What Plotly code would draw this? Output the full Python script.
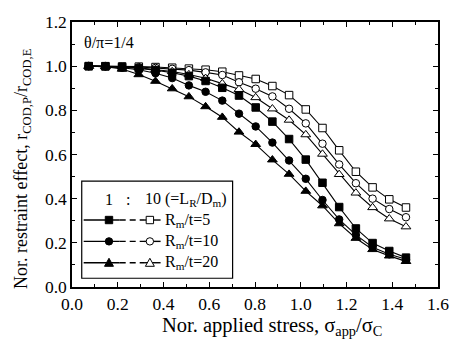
import plotly.graph_objects as go

x_vals = [0.073, 0.146, 0.219, 0.292, 0.365, 0.438, 0.511, 0.584, 0.657, 0.730,
          0.803, 0.876, 0.949, 1.022, 1.095, 1.168, 1.241, 1.314, 1.387, 1.460]

sq_filled = [1.0, 0.999, 0.995, 0.990, 0.982, 0.970, 0.955, 0.933, 0.902, 0.867,
             0.813, 0.749, 0.670, 0.577, 0.472, 0.362, 0.265, 0.199, 0.163, 0.133]
cir_filled = [1.0, 0.999, 0.993, 0.984, 0.968, 0.946, 0.913, 0.884, 0.844, 0.785,
              0.727, 0.654, 0.573, 0.490, 0.394, 0.306, 0.236, 0.180, 0.148, 0.126]
tri_filled = [1.0, 0.998, 0.987, 0.962, 0.932, 0.898, 0.862, 0.817, 0.769, 0.702,
              0.646, 0.576, 0.511, 0.434, 0.368, 0.287, 0.221, 0.170, 0.141, 0.116]
sq_open = [1.0, 1.0, 0.999, 0.998, 0.996, 0.993, 0.989, 0.984, 0.975, 0.958,
           0.942, 0.910, 0.869, 0.804, 0.720, 0.619, 0.522, 0.451, 0.397, 0.360]
cir_open = [1.0, 1.0, 0.998, 0.996, 0.992, 0.988, 0.982, 0.972, 0.960, 0.927,
            0.898, 0.863, 0.807, 0.741, 0.649, 0.555, 0.470, 0.400, 0.353, 0.316]
tri_open = [1.0, 1.0, 0.997, 0.993, 0.985, 0.976, 0.962, 0.945, 0.921, 0.895,
            0.858, 0.807, 0.756, 0.690, 0.602, 0.510, 0.426, 0.360, 0.309, 0.273]

legend_labels = ["R<sub>m</sub>/t=5", "R<sub>m</sub>/t=10", "R<sub>m</sub>/t=20"]
header_text = "10 (=L<sub>R</sub>/D<sub>m</sub>)"
angle_text = "θ/π=1/4"
x_title = "Nor. applied stress, σ<sub>app</sub>/σ<sub>C</sub>"
y_title = "Nor. restraint effect, r<sub>COD,P</sub>/r<sub>COD,E</sub>"

FONT = "Liberation Serif"
W, H = 461, 347
L, R, T, B = 72, 13, 14, 60
PW, PH = W - L - R, H - T - B


def px(x):
    return (x - L) / PW


def py(y):
    return (T + PH - y) / PH


fig = go.Figure()

series = [
    (sq_open, "square", True), (cir_open, "circle", True), (tri_open, "triangle-up", True),
    (sq_filled, "square", False), (cir_filled, "circle", False), (tri_filled, "triangle-up", False),
]
for vals, sym, is_open in series:
    fig.add_trace(go.Scatter(
        x=x_vals, y=vals, mode="lines+markers",
        line=dict(color="black", width=1.1),
        marker=dict(symbol=sym, size=7.5 if sym != "triangle-up" else 8.5,
                    color="white" if is_open else "black",
                    line=dict(color="black", width=1)),
        showlegend=False, hoverinfo="skip"))

axis_common = dict(
    showline=True, linecolor="black", linewidth=1.5, mirror="allticks",
    ticks="inside", ticklen=5, tickwidth=1, tickcolor="black",
    showgrid=False, zeroline=False, tickformat=".1f",
    tickfont=dict(family=FONT, size=17.5, color="black"),
    minor=dict(ticks="inside", ticklen=3, tickwidth=1, tickcolor="black", dtick=0.1, showgrid=False),
)
fig.update_xaxes(range=[0, 1.6], dtick=0.2, tick0=0, **axis_common)
fig.update_yaxes(range=[0, 1.2], dtick=0.2, tick0=0, **axis_common)

shapes = []
annotations = []

# axis titles
annotations.append(dict(xref="paper", yref="paper", x=px(162), y=py(328), xanchor="left",
                        yanchor="middle", text=x_title, showarrow=False,
                        font=dict(family=FONT, size=20.5, color="black")))
annotations.append(dict(xref="paper", yref="paper", x=px(21), y=py(165), xanchor="center",
                        yanchor="middle", text=y_title, showarrow=False, textangle=-90,
                        font=dict(family=FONT, size=18, color="black")))

# legend box
shapes.append(dict(type="rect", xref="paper", yref="paper",
                   x0=px(82), x1=px(237), y0=py(278), y1=py(178),
                   line=dict(color="black", width=1.2), fillcolor="white", layer="above"))

annotations.append(dict(xref="paper", yref="paper", x=px(82), y=py(35), xanchor="left",
                        yanchor="middle", text=angle_text, showarrow=False,
                        font=dict(family=FONT, size=16, color="black")))

hy = 197
annotations.append(dict(xref="paper", yref="paper", x=px(110), y=py(hy), xanchor="center",
                        yanchor="middle", text="1", showarrow=False,
                        font=dict(family=FONT, size=16, color="black")))
annotations.append(dict(xref="paper", yref="paper", x=px(130), y=py(hy), xanchor="center",
                        yanchor="middle", text=":", showarrow=False,
                        font=dict(family=FONT, size=16, color="black")))
annotations.append(dict(xref="paper", yref="paper", x=px(145), y=py(hy), xanchor="left",
                        yanchor="middle", text=header_text, showarrow=False,
                        font=dict(family=FONT, size=16, color="black")))

row_y = [218, 240, 262]
kinds = ["square", "circle", "triangle"]


def marker_shape(kind, cx, cy, filled):
    s = 3.8
    common = dict(xref="paper", yref="paper", line=dict(color="black", width=1),
                  fillcolor="black" if filled else "white", layer="above")
    if kind == "square":
        return dict(type="rect", x0=px(cx - s), x1=px(cx + s), y0=py(cy + s), y1=py(cy - s), **common)
    if kind == "circle":
        return dict(type="circle", x0=px(cx - s), x1=px(cx + s), y0=py(cy + s), y1=py(cy - s), **common)
    t = 4.6
    path = (f"M {px(cx - t)} {py(cy + t * 0.8)} L {px(cx + t)} {py(cy + t * 0.8)} "
            f"L {px(cx)} {py(cy - t)} Z")
    return dict(type="path", path=path, **common)


for yc, kind, lab in zip(row_y, kinds, legend_labels):
    lw = 1.4
    shapes.append(dict(type="line", xref="paper", yref="paper", x0=px(84), x1=px(121),
                       y0=py(yc), y1=py(yc), line=dict(color="black", width=lw), layer="above"))
    shapes.append(dict(type="line", xref="paper", yref="paper", x0=px(121), x1=px(146),
                       y0=py(yc), y1=py(yc), line=dict(color="black", width=lw, dash="6px,4px"), layer="above"))
    shapes.append(dict(type="line", xref="paper", yref="paper", x0=px(146), x1=px(163),
                       y0=py(yc), y1=py(yc), line=dict(color="black", width=lw), layer="above"))
    shapes.append(marker_shape(kind, 110, yc, True))
    shapes.append(marker_shape(kind, 152, yc, False))
    annotations.append(dict(xref="paper", yref="paper", x=px(165), y=py(yc), xanchor="left",
                            yanchor="middle", text=lab, showarrow=False,
                            font=dict(family=FONT, size=16, color="black")))

fig.update_layout(
    width=W, height=H, margin=dict(l=L, r=R, t=T, b=B),
    paper_bgcolor="white", plot_bgcolor="white",
    shapes=shapes, annotations=annotations,
    font=dict(family=FONT, color="black"),
)

fig.write_html("out.html")
